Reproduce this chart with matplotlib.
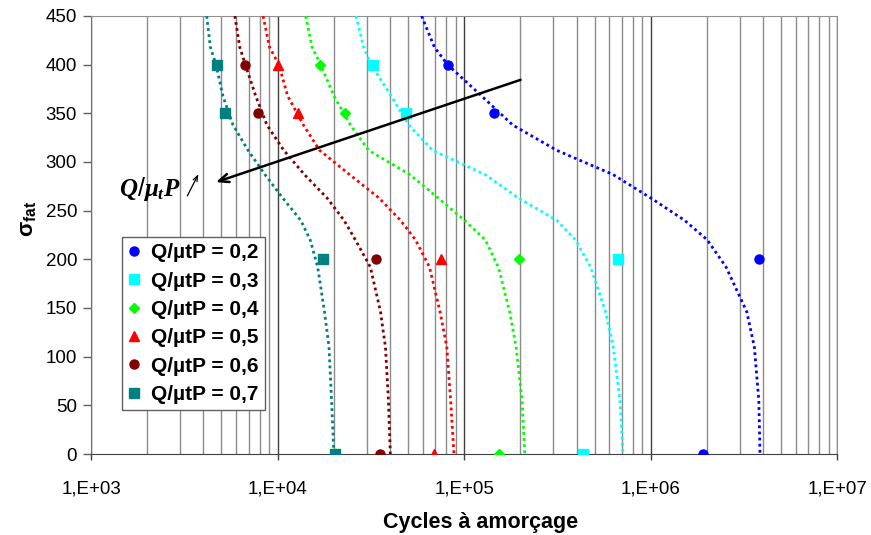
import numpy as np
import matplotlib.pyplot as plt
from matplotlib.ticker import LogLocator, FuncFormatter, MultipleLocator, NullFormatter

plt.rcParams['font.family'] = ['Liberation Sans', 'DejaVu Sans']
plt.rcParams['mathtext.fontset'] = 'custom'
plt.rcParams['mathtext.rm'] = 'Liberation Sans'
plt.rcParams['mathtext.bf'] = 'Liberation Sans:bold'
plt.rcParams['mathtext.it'] = 'Liberation Serif:italic:bold'

# points mesures (sigma_fat, cycles)
sig_pts = [400, 350, 200, 0]
n_02 = [81800, 145000, 3800000, 1910000]
n_03 = [32400, 48900, 668000, 435000]
n_04 = [16900, 23000, 196000, 153000]
n_05 = [10100, 12800, 74700, 68500]
n_06 = [6710, 7820, 33800, 35200]
n_07 = [4710, 5200, 17500, 20200]

# courbes de tendance
sig_curve = [450, 418, 400, 368, 338, 312, 287, 263, 240, 220, 192, 146, 110, 55, 0]
c_02 = [59130, 69230, 81490, 123700, 181900, 313300, 629000, 1000000, 1519000,
        2007000, 2532000, 3271000, 3588000, 3793000, 3849000]
c_03 = [26340, 28920, 31720, 40590, 50500, 67650, 129600, 195200, 313300,
        395100, 476000, 572600, 629000, 683900, 709800]
c_04 = [14140, 15300, 17010, 20030, 24580, 30720, 51190, 72570, 100400,
        129600, 152500, 175300, 189700, 204200, 211200]
c_05 = [8362, 9049, 10160, 11310, 13747, 16790, 24340, 34960, 45590,
        54840, 65180, 74210, 80690, 84570, 88170]
c_06 = [5899, 6266, 6714, 7625, 8763, 10795, 13934, 18414, 22714,
        26110, 31420, 35610, 37840, 39260, 40190]
c_07 = [4169, 4360, 4677, 5088, 5768, 6941, 8561, 10650, 13314,
        14950, 16400, 17840, 18850, 19460, 20030]

labels = ['Q/µtP = 0,2', 'Q/µtP = 0,3', 'Q/µtP = 0,4',
          'Q/µtP = 0,5', 'Q/µtP = 0,6', 'Q/µtP = 0,7']
points = [n_02, n_03, n_04, n_05, n_06, n_07]
curves = [c_02, c_03, c_04, c_05, c_06, c_07]
colors = ['#0000FF', '#00FFFF', '#00FF00', '#FF0000', '#800000', '#008080']
markers = ['o', 's', 'D', '^', 'o', 's']
msizes = [6.5, 6.5, 5, 7, 6.5, 6.5]

fig = plt.figure(figsize=(8.71, 5.35), dpi=100)
ax = fig.add_axes([0.1045, 0.1514, 0.8569, 0.8187])

for n, c, col, mk, ms, lab in zip(points, curves, colors, markers, msizes, labels):
    ax.plot(c, sig_curve, color=col, linestyle=(0, (1, 1.2)), linewidth=2, zorder=3)
    ax.plot(n, sig_pts, linestyle='none', marker=mk, markersize=ms, color=col,
            markeredgecolor=col, label=lab, zorder=4)

ax.set_xscale('log')
ax.set_xlim(1e3, 1e7)
ax.set_ylim(0, 450)
ax.yaxis.set_major_locator(MultipleLocator(50))
ax.xaxis.set_major_locator(LogLocator(base=10, numticks=10))
ax.xaxis.set_minor_locator(LogLocator(base=10, subs=np.arange(2, 10), numticks=10))
ax.xaxis.set_major_formatter(FuncFormatter(lambda v, p: '1,E+%02d' % round(np.log10(v))))
ax.xaxis.set_minor_formatter(NullFormatter())

ax.grid(True, which='major', axis='x', color='#404040', linewidth=1)
ax.grid(True, which='minor', axis='x', color='#8a8a8a', linewidth=1)
ax.set_axisbelow(True)

ax.tick_params(axis='y', which='major', direction='out', length=6, width=1,
               color='#606060', labelsize=13.5, pad=4)
ax.tick_params(axis='x', which='major', direction='out', length=4, width=1,
               color='#404040', labelsize=13.5, pad=15)
ax.tick_params(axis='x', which='minor', length=0)

for s in ['top', 'right']:
    ax.spines[s].set_color('#909090')
ax.spines['left'].set_color('#707070')
ax.spines['bottom'].set_color('#404040')

ax.set_xlabel('Cycles à amorçage', fontsize=15.5, fontweight='bold')
ax.xaxis.set_label_coords(0.5225, -0.1575, transform=ax.transAxes)
ax.xaxis.label.set_va('center')
ax.set_ylabel(r'$\mathbf{σ_{fat}}$', fontsize=16)
ax.yaxis.set_label_coords(-0.0844, 0.5365, transform=ax.transAxes)
ax.yaxis.label.set_va('center')

# fleche Q/mu_t P
ax.annotate('', xy=(4525, 278.4), xytext=(207000, 385.3),
            arrowprops=dict(arrowstyle='->,head_length=0.7,head_width=0.3',
                            color='black', lw=1.8), zorder=5)
ax.annotate('', xy=(3821, 290.0), xytext=(3232, 262.7),
            arrowprops=dict(arrowstyle='->,head_length=0.4,head_width=0.15',
                            color='black', lw=0.9), zorder=5)
ax.text(2080, 272, r'$Q/\mu_{t}P$', fontsize=18, ha='center', va='center', zorder=5)

leg = ax.legend(loc='upper left', bbox_to_anchor=(0.0415, 0.4954), borderaxespad=0,
                prop={'weight': 'bold', 'size': 15}, fancybox=False,
                edgecolor='#606060', framealpha=1, handlelength=0.6,
                handletextpad=0.5, labelspacing=0.45, borderpad=0.3)
leg.get_frame().set_linewidth(1)

fig.savefig('out.png', dpi=100)
